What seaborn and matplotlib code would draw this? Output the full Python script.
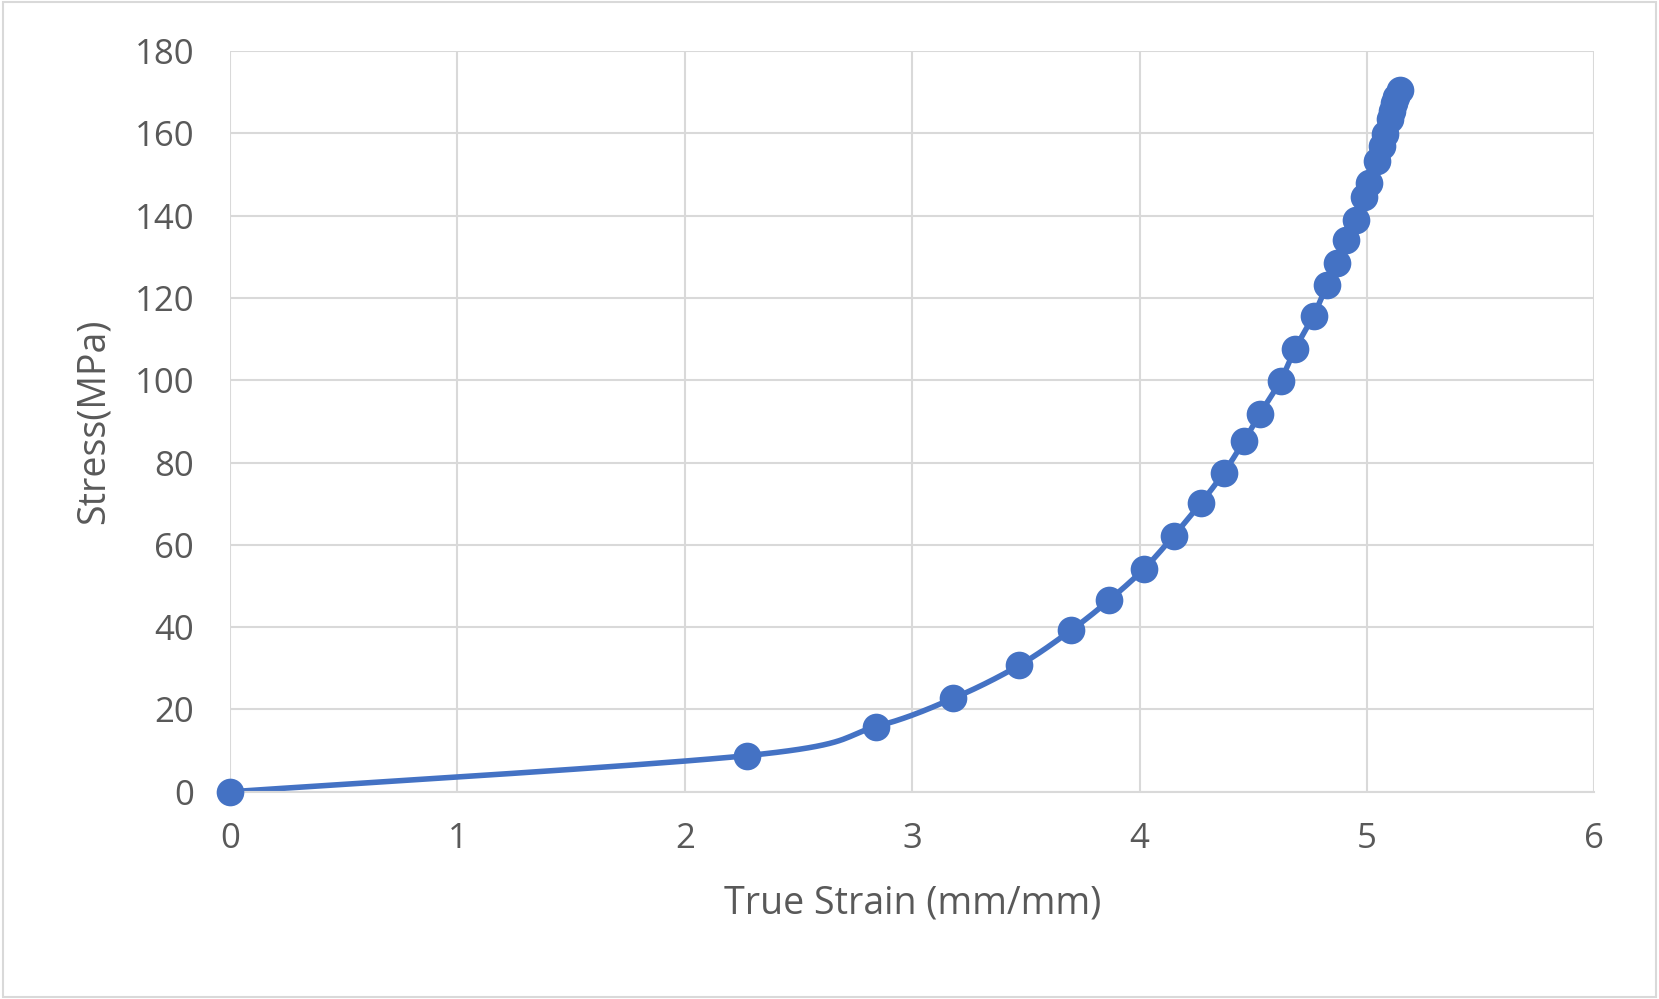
import matplotlib
matplotlib.use('Agg')
import matplotlib.pyplot as plt
import numpy as np
import pandas as pd
import seaborn as sns

strain = [0, 2.275, 2.84, 3.18, 3.47, 3.70, 3.865, 4.02, 4.15, 4.27, 4.37, 4.46,
          4.53, 4.62, 4.685, 4.765, 4.825, 4.87, 4.91, 4.95, 4.985, 5.01, 5.045,
          5.065, 5.08, 5.10, 5.11, 5.12, 5.13, 5.145]
stress = [0, 8.8, 15.8, 22.7, 30.7, 39.3, 46.5, 54.2, 62.2, 70.2, 77.5, 85.3,
          91.9, 99.9, 107.7, 115.7, 123.2, 128.4, 134, 139, 144.4, 148, 153.2,
          156.8, 159.9, 163.5, 165.5, 167.4, 168.9, 170.5]
xticks = [0, 1, 2, 3, 4, 5, 6]
yticks = list(range(0, 181, 20))

blue = '#4472C4'
grey = '#595959'


def smooth(x, y, n=20):
    # Catmull-Rom curve through the points, like Excel's smoothed line
    p = np.column_stack([x, y])
    p = np.vstack([p[0], p, p[-1]])
    out = []
    t = np.linspace(0, 1, n, endpoint=False)[:, None]
    for i in range(1, len(p) - 2):
        p0, p1, p2, p3 = p[i - 1], p[i], p[i + 1], p[i + 2]
        seg = 0.5 * ((2 * p1) + (-p0 + p2) * t + (2 * p0 - 5 * p1 + 4 * p2 - p3) * t ** 2
                     + (-p0 + 3 * p1 - 3 * p2 + p3) * t ** 3)
        out.append(seg)
    out.append(p[-2][None, :])
    out = np.vstack(out)
    return out[:, 0], out[:, 1]


sns.set_style('white')
plt.rcParams['font.family'] = ['Open Sans', 'DejaVu Sans']

fig = plt.figure(figsize=(16.59, 9.99), dpi=100, facecolor='white')
ax = fig.add_axes([0.1387, 0.2074, 0.8223, 0.7416])

sx, sy = smooth(np.array(strain, float), np.array(stress, float))
sns.lineplot(x=sx, y=sy, sort=False, color=blue, linewidth=4, ax=ax)
sc = sns.scatterplot(x=strain, y=stress, color=blue, s=340, edgecolor=blue, zorder=3, ax=ax)
for c in ax.collections:
    c.set_clip_on(False)

ax.set_xlim(0, 6)
ax.set_ylim(0, 180)
ax.set_xticks(xticks)
ax.set_yticks(yticks)
ax.grid(True, color='#D9D9D9', linewidth=1.5)
ax.set_axisbelow(True)
for s in ['top', 'right', 'left']:
    ax.spines[s].set_visible(False)
ax.spines['bottom'].set_color('#D9D9D9')
ax.spines['bottom'].set_linewidth(1.5)
ax.tick_params(axis='both', length=0, labelsize=25, colors=grey)
ax.tick_params(axis='x', pad=22)
ax.tick_params(axis='y', pad=26)
ax.set_xlabel('True Strain (mm/mm)', fontsize=27, color=grey, labelpad=20)
ax.set_ylabel('Stress(MPa)', fontsize=27, color=grey, labelpad=16)

fig.patches.append(plt.Rectangle((0.002, 0.002), 0.996, 0.996, transform=fig.transFigure,
                                 fill=False, edgecolor='#D9D9D9', linewidth=1.5))
fig.savefig('out.png', dpi=100, facecolor='white')
